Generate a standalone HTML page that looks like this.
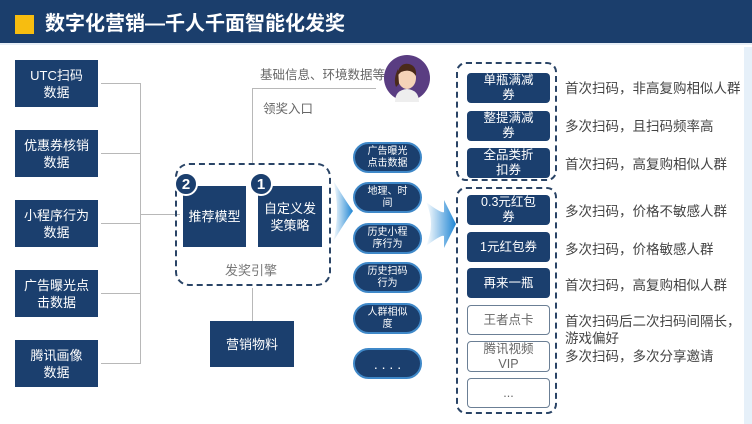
<!DOCTYPE html>
<html><head><meta charset="utf-8"><style>
*{margin:0;padding:0;box-sizing:border-box}
body{width:752px;height:424px;overflow:hidden;background:#fff;font-family:"Liberation Sans","Noto Sans CJK SC",sans-serif;position:relative}
.a{position:absolute}
.hdr{left:0;top:0;width:752px;height:45px;background:#1b3e6c;border-bottom:2px solid #e7eef6}
.b{position:absolute;background:#1b3f6e;color:#fff;display:flex;align-items:center;justify-content:center;text-align:center;font-size:13px;line-height:17px}
.p{position:absolute;left:353px;width:69px;height:31px;border-radius:16px;background:#1b3f6e;border:2px solid #3f88c8;color:#fff;font-size:10px;line-height:12px;display:flex;align-items:center;justify-content:center;text-align:center}
.r{position:absolute;left:467px;width:83px;border-radius:4px;background:#1b3f6e;color:#fff;font-size:12.5px;line-height:15px;display:flex;align-items:center;justify-content:center;text-align:center}
.w{background:#fff;border:1px solid #6b7f95;color:#666}
.t{position:absolute;left:565px;font-size:13.5px;color:#444;line-height:17px}
.ln{position:absolute;background:#b8b8b8}
.c{position:absolute;width:24px;height:24px;border-radius:50%;background:#1b3f6e;border:2px solid #fff;color:#fff;font-size:15px;font-weight:bold;display:flex;align-items:center;justify-content:center}
</style></head><body>
<div class="a hdr"></div>
<div class="a" style="left:15px;top:15px;width:19px;height:19px;background:#f7bd10"></div>
<div class="a" style="left:45px;top:10px;color:#fff;font-size:20px;font-weight:bold;line-height:28px">数字化营销—千人千面智能化发奖</div>
<div class="a" style="left:744px;top:47px;width:8px;height:377px;background:#e6f0f9"></div>

<div class="b" style="left:15px;top:60px;width:83px;height:47px">UTC扫码<br>数据</div>
<div class="b" style="left:15px;top:130px;width:83px;height:47px">优惠券核销<br>数据</div>
<div class="b" style="left:15px;top:200px;width:83px;height:47px">小程序行为<br>数据</div>
<div class="b" style="left:15px;top:270px;width:83px;height:47px">广告曝光点<br>击数据</div>
<div class="b" style="left:15px;top:340px;width:83px;height:47px">腾讯画像<br>数据</div>

<div class="ln" style="left:101px;top:83px;width:40px;height:1px"></div>
<div class="ln" style="left:101px;top:153px;width:40px;height:1px"></div>
<div class="ln" style="left:101px;top:223px;width:40px;height:1px"></div>
<div class="ln" style="left:101px;top:293px;width:40px;height:1px"></div>
<div class="ln" style="left:101px;top:363px;width:40px;height:1px"></div>
<div class="ln" style="left:140px;top:83px;width:1px;height:281px"></div>
<div class="ln" style="left:140px;top:214px;width:40px;height:1px"></div>

<div class="ln" style="left:252px;top:88px;width:1px;height:75px"></div>
<div class="ln" style="left:252px;top:88px;width:124px;height:1px"></div>
<div class="ln" style="left:252px;top:288px;width:1px;height:33px"></div>
<div class="a" style="left:260px;top:64px;font-size:12.5px;color:#666">基础信息、环境数据等</div>
<div class="a" style="left:263px;top:98px;font-size:12.5px;color:#666">领奖入口</div>
<svg class="a" style="left:383px;top:54px" width="48" height="50"><circle cx="24" cy="24" r="23" fill="#5a3d82"/><path d="M12 48 Q12 36 24 35 Q36 36 36 48Z" fill="#eee"/><ellipse cx="24" cy="24" rx="9" ry="11" fill="#f5d3b8"/><path d="M14 22 Q16 8 26 10 Q34 12 33 22 Q28 14 18 18 Z" fill="#4a2a1a"/><path d="M15 15 Q10 25 13 33 L16 30Z" fill="#4a2a1a"/></svg>

<div class="a" style="left:175px;top:163px;width:156px;height:123px;border:2px dashed #2a4466;border-radius:14px"></div>
<div class="b" style="left:183px;top:186px;width:63px;height:61px">推荐模型</div>
<div class="b" style="left:258px;top:186px;width:64px;height:61px">自定义发<br>奖策略</div>
<div class="c" style="left:174px;top:172px">2</div>
<div class="c" style="left:249px;top:172px">1</div>
<div class="a" style="left:225px;top:260px;font-size:13px;color:#777">发奖引擎</div>
<div class="b" style="left:210px;top:321px;width:84px;height:46px">营销物料</div>

<svg class="a" style="left:333px;top:180px" width="20" height="62"><defs><linearGradient id="g" x1="0" x2="1"><stop offset="0" stop-color="#fff"/><stop offset="1" stop-color="#1f86d4"/></linearGradient></defs><path d="M0 0 Q12 20 20 31 Q12 42 0 62 Q8 31 0 0Z" fill="url(#g)"/></svg>
<svg class="a" style="left:426px;top:198px" width="30" height="52"><path d="M0 4 Q16 16 18 14 L18 2 L30 26 L18 50 L18 38 Q16 36 0 48 Q10 26 0 4Z" fill="url(#g)"/></svg>

<div class="p" style="top:142px">广告曝光<br>点击数据</div>
<div class="p" style="top:182px">地理、时<br>间</div>
<div class="p" style="top:223px">历史小程<br>序行为</div>
<div class="p" style="top:262px">历史扫码<br>行为</div>
<div class="p" style="top:303px">人群相似<br>度</div>
<div class="p" style="top:348px;font-size:14px">. . . .</div>

<div class="a" style="left:456px;top:62px;width:101px;height:119px;border:2px dashed #2a4466;border-radius:10px"></div>
<div class="a" style="left:456px;top:187px;width:101px;height:227px;border:2px dashed #2a4466;border-radius:10px"></div>
<div class="r" style="top:73px;height:30px">单瓶满减<br>券</div>
<div class="r" style="top:111px;height:30px">整提满减<br>券</div>
<div class="r" style="top:148px;height:30px">全品类折<br>扣券</div>
<div class="r" style="top:195px;height:30px">0.3元红包<br>券</div>
<div class="r" style="top:232px;height:30px">1元红包券</div>
<div class="r" style="top:268px;height:30px">再来一瓶</div>
<div class="r w" style="top:305px;height:30px">王者点卡</div>
<div class="r w" style="top:341px;height:31px">腾讯视频<br>VIP</div>
<div class="r w" style="top:378px;height:30px">...</div>

<div class="t" style="top:80px">首次扫码，非高复购相似人群</div>
<div class="t" style="top:118px">多次扫码，且扫码频率高</div>
<div class="t" style="top:156px">首次扫码，高复购相似人群</div>
<div class="t" style="top:203px">多次扫码，价格不敏感人群</div>
<div class="t" style="top:241px">多次扫码，价格敏感人群</div>
<div class="t" style="top:277px">首次扫码，高复购相似人群</div>
<div class="t" style="top:313px">首次扫码后二次扫码间隔长，<br>游戏偏好</div>
<div class="t" style="top:348px">多次扫码，多次分享邀请</div>
</body></html>
